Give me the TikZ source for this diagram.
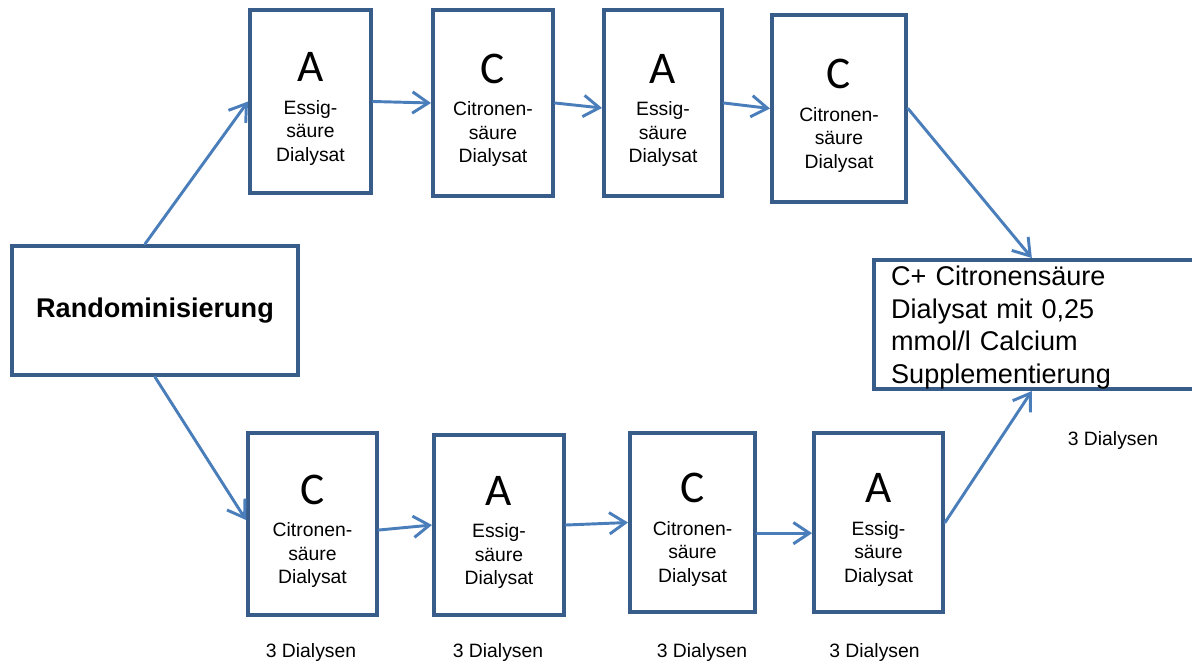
\documentclass[tikz,border=0pt]{standalone}
\usepackage{fontspec}
\setmainfont{Liberation Sans}
\newfontfamily\letterfont{Carlito}
\usetikzlibrary{arrows.meta}
\begin{document}
\begin{tikzpicture}[x=0.75pt, y=-0.75pt,
  box/.style={draw=boxblue, line width=3pt, align=center, inner sep=0pt, font=\fontsize{14.5}{17.5}\selectfont},
  arr/.style={draw=arrowblue, line width=2.2pt, line cap=round, -{Straight Barb[length=12pt, width=16pt]}},
  dialysen/.style={font=\fontsize{14.5}{17.5}\selectfont}]
\definecolor{boxblue}{HTML}{385D8A}
\definecolor{arrowblue}{HTML}{4A7EBB}
\useasboundingbox (0,0) rectangle (1192,663);
\node[box, minimum width=214.5pt, minimum height=96.75pt, font=\fontsize{20.3}{24.4}\selectfont\bfseries] (rand) at (155,310.5) {Randominisierung};
\node[box, minimum width=90.75pt, minimum height=137.25pt] (t1) at (310.5,101.5) {\rule{0pt}{33pt}{\letterfont\fontsize{34}{34}\selectfont A}\\[7pt]Essig-\\säure\\Dialysat};
\node[box, minimum width=90pt, minimum height=139.5pt] (t2) at (493,103) {\rule{0pt}{33pt}{\letterfont\fontsize{34}{34}\selectfont C}\\[7pt]Citronen-\\säure\\Dialysat};
\node[box, minimum width=88.5pt, minimum height=139.5pt] (t3) at (663,103) {\rule{0pt}{33pt}{\letterfont\fontsize{34}{34}\selectfont A}\\[7pt]Essig-\\säure\\Dialysat};
\node[box, minimum width=100.5pt, minimum height=140.25pt] (t4) at (839,108.5) {\rule{0pt}{33pt}{\letterfont\fontsize{34}{34}\selectfont C}\\[7pt]Citronen-\\säure\\Dialysat};
\node[box, minimum width=96.75pt, minimum height=136.5pt] (b1) at (312.5,524) {\rule{0pt}{33pt}{\letterfont\fontsize{34}{34}\selectfont C}\\[7pt]Citronen-\\säure\\Dialysat};
\node[box, minimum width=97.5pt, minimum height=135pt] (b2) at (499,525) {\rule{0pt}{33pt}{\letterfont\fontsize{34}{34}\selectfont A}\\[7pt]Essig-\\säure\\Dialysat};
\node[box, minimum width=93.75pt, minimum height=134.25pt] (b3) at (692.5,522.5) {\rule{0pt}{33pt}{\letterfont\fontsize{34}{34}\selectfont C}\\[7pt]Citronen-\\säure\\Dialysat};
\node[box, minimum width=96.75pt, minimum height=134.25pt] (b4) at (878.5,522.5) {\rule{0pt}{33pt}{\letterfont\fontsize{34}{34}\selectfont A}\\[7pt]Essig-\\säure\\Dialysat};
\node[box, minimum height=96.75pt, text width=227pt, inner xsep=12.75pt, align=left, font=\fontsize{20.3}{24.4}\selectfont] (suppl) at (1042.5,324.5) {\rule{0pt}{19pt}C+ Citronensäure\\Dialysat mit 0,25\\mmol/l Calcium\\Supplementierung};
\node[dialysen] (d1) at (311,652) {3 Dialysen};
\node[dialysen] (d2) at (498,652) {3 Dialysen};
\node[dialysen] (d3) at (702,652) {3 Dialysen};
\node[dialysen] (d4) at (874.5,652) {3 Dialysen};
\node[dialysen] (d5) at (1113,440) {3 Dialysen};
\draw[arr] ([xshift=-7.5pt]rand.north) -- (t1.west);
\draw[arr] (t1.east) -- (t2.west);
\draw[arr] (t2.east) -- ([yshift=-3.75pt]t3.west);
\draw[arr] (t3.east) -- (t4.west);
\draw[arr] (t4.east) -- ([xshift=-8pt]suppl.north);
\draw[arr] (rand.south) -- ([yshift=3pt]b1.west);
\draw[arr] ([yshift=-4.5pt]b1.east) -- (b2.west);
\draw[arr] (b2.east) -- (b3.west);
\draw[arr] ([yshift=-8pt]b3.east) -- ([yshift=-8pt]b4.west);
\draw[arr] (b4.east) -- ([xshift=-8pt]suppl.south);
\end{tikzpicture}
\end{document}
